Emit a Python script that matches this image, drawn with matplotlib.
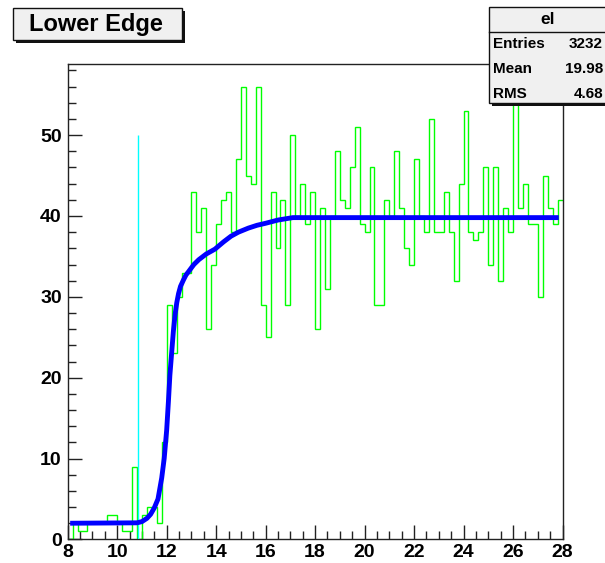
import matplotlib
matplotlib.use("Agg")
import matplotlib.pyplot as plt
from matplotlib.patches import Rectangle
from matplotlib.ticker import MultipleLocator
import numpy as np

plt.rcParams['font.family'] = ['Liberation Sans', 'DejaVu Sans']

# histogram "el": 100 bins of width 0.2 from 8 to 28
x_low, x_high = 8.0, 28.0
counts = [
    0, 2, 1, 1, 2, 2, 2, 2, 3, 3, 2, 1, 1, 9, 0, 3, 4, 4, 2, 12,
    29, 23, 30, 33, 33, 43, 38, 41, 26, 34, 39, 42, 43, 38, 47, 56, 45, 44, 56, 29,
    25, 43, 36, 42, 29, 50, 40, 44, 39, 43, 26, 41, 31, 40, 48, 42, 41, 46, 51, 39,
    38, 46, 29, 29, 42, 40, 48, 41, 36, 34, 47, 40, 38, 52, 38, 38, 43, 38, 32, 44,
    53, 38, 37, 38, 46, 34, 46, 32, 41, 38, 55, 41, 44, 39, 39, 30, 45, 41, 39, 42,
]

# fitted lower-edge function, sampled
fit_x = [8.1, 10.8, 11.0, 11.2, 11.35, 11.5, 11.65, 11.8, 11.9, 12.0, 12.07,
         12.13, 12.2, 12.27, 12.34, 12.41, 12.48, 12.56, 12.68, 12.78, 12.88,
         13.1, 13.3, 13.6, 13.95, 14.3, 14.6, 14.9, 15.3, 15.65, 16.0, 16.5,
         17.1, 27.85]
fit_y = [2.0, 2.05, 2.2, 2.6, 3.1, 3.9, 5.0, 7.6, 10.0, 13.5, 17.0,
         20.3, 23.0, 25.7, 27.8, 29.3, 30.4, 31.3, 32.1, 32.7, 33.1,
         34.0, 34.6, 35.3, 35.9, 36.8, 37.5, 38.0, 38.5, 38.85, 39.1, 39.5,
         39.8, 39.8]

# edge marker
edge_pos = 10.85
edge_top = 50

stats_title = "el"
stats_rows = [("Entries", "3232"), ("Mean", "19.98"), ("RMS", "4.68")]
title = "Lower Edge"

W, H = 605, 563
fig = plt.figure(figsize=(W / 100, H / 100), dpi=100)
fig.patch.set_facecolor('white')


def fx(px):
    return px / W


def fy(py):
    return 1 - py / H


ax_l, ax_r, ax_t, ax_b = 67.7, 562.5, 64.0, 539.4
ax = fig.add_axes([fx(ax_l), fy(ax_b), (ax_r - ax_l) / W, (ax_b - ax_t) / H])

edges = np.linspace(x_low, x_high, len(counts) + 1)
ax.stairs(counts, edges, color='#00ff00', linewidth=1.0, baseline=None, zorder=2)
ax.vlines(edge_pos, 0, edge_top, color='#00ffff', linewidth=1.0, zorder=3)
ax.plot(fit_x, fit_y, color='#0000ff', linewidth=3.5, solid_capstyle='butt',
        solid_joinstyle='round', zorder=4)

ax.set_xlim(x_low, x_high)
ax.set_ylim(0, max(counts) * 1.05)

ax.xaxis.set_major_locator(MultipleLocator(2))
ax.xaxis.set_minor_locator(MultipleLocator(0.5))
ax.yaxis.set_major_locator(MultipleLocator(10))
ax.yaxis.set_minor_locator(MultipleLocator(2))
ax.tick_params(which='both', direction='in', top=False, right=False, width=1.0,
               color='#222222')
ax.tick_params(which='major', length=10)
ax.tick_params(which='minor', length=6)
ax.tick_params(axis='x', which='major', pad=3)
ax.tick_params(axis='y', which='major', pad=4.3)
for lab in ax.get_xticklabels() + ax.get_yticklabels():
    lab.set_fontsize(14)
    lab.set_fontweight('bold')
for sp in ax.spines.values():
    sp.set_linewidth(1.0)
    sp.set_color('#222222')


def box(x0, y0, x1, y1, shadow=3):
    fig.add_artist(Rectangle((fx(x0 + shadow), fy(y1 + shadow)), (x1 - x0) / W,
                             (y1 - y0) / H, transform=fig.transFigure,
                             facecolor='#111111', edgecolor='none', zorder=9))
    fig.add_artist(Rectangle((fx(x0), fy(y1)), (x1 - x0) / W, (y1 - y0) / H,
                             transform=fig.transFigure, facecolor='#f0f0f0',
                             edgecolor='#111111', linewidth=1.0, zorder=10))


# title box
box(13, 8, 182, 40)
fig.text(fx(96), fy(24.5), title, ha='center', va='center', fontsize=17,
         fontweight='bold', zorder=11)

# statistics box
sx0, sy0, sx1, sy1 = 489, 7, 608, 103
box(sx0, sy0, sx1, sy1)
fig.add_artist(plt.Line2D([fx(sx0), fx(sx1)], [fy(32), fy(32)],
                          transform=fig.transFigure, color='#111111',
                          linewidth=1.0, zorder=11))
fig.text(fx(548), fy(19), stats_title, ha='center', va='center', fontsize=12.5,
         fontweight='bold', zorder=11)
for i, (name, val) in enumerate(stats_rows):
    yy = 44.5 + i * 24.5
    fig.text(fx(493), fy(yy), name, ha='left', va='center', fontsize=11,
             fontweight='bold', zorder=11)
    fig.text(fx(603), fy(yy), val, ha='right', va='center', fontsize=11,
             fontweight='bold', zorder=11)

fig.savefig('out.png', dpi=100)
